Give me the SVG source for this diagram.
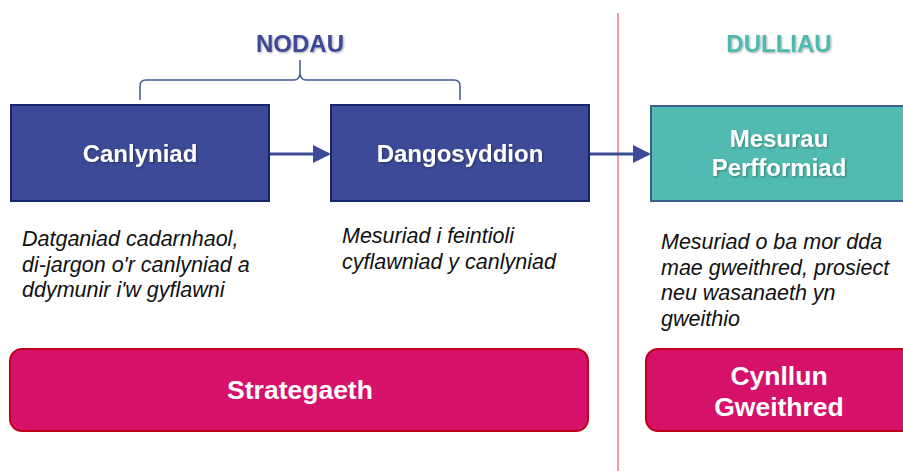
<svg xmlns="http://www.w3.org/2000/svg" width="903" height="471" viewBox="0 0 903 471">
<defs>
<style>
.blue{fill:#3D4A97;stroke:#14276A;stroke-width:2}
.teal{fill:#52BBB1;stroke:#3C5F8C;stroke-width:2}
.mag{fill:#D6116A;stroke:#C00018;stroke-width:2}
.t{font-family:"Liberation Sans",Arial,sans-serif;font-weight:bold;fill:#fff;text-anchor:middle}
.h{font-family:"Liberation Sans",Arial,sans-serif;font-weight:bold;font-size:24px;text-anchor:middle}
.d{font-family:"Liberation Sans",Arial,sans-serif;font-style:italic;font-size:21.5px;fill:#111}
.conn{stroke:#3D4A97;stroke-width:3;fill:none}
</style>
<filter id="sh" x="-10%" y="-20%" width="120%" height="140%">
<feDropShadow dx="1" dy="1" stdDeviation="0.8" flood-color="#000" flood-opacity="0.35"/>
</filter>
<marker id="ah" markerWidth="6" markerHeight="6" refX="5" refY="3" orient="auto" markerUnits="strokeWidth">
<path d="M0,0 L6,3 L0,6 z" fill="#3D4A97"/>
</marker>
</defs>
<rect width="903" height="471" fill="#fff"/>
<line x1="618" y1="13" x2="618" y2="471" stroke="#F05A5A" stroke-width="1.2"/>
<g id="nodau">
<text class="h" x="300" y="52" fill="#3D4A97" filter="url(#sh)">NODAU</text>
<path d="M140,100 L140,86 Q140,80 146,80 L294,80 Q299,80 300,74 L300,60 M300,74 Q301,80 306,80 L454,80 Q460,80 460,86 L460,100" fill="none" stroke="#3F5890" stroke-width="1.5"/>
</g>
<g id="dulliau">
<text class="h" x="779" y="52" fill="#4DBAB0" filter="url(#sh)">DULLIAU</text>
</g>
<g id="connectors">
<line class="conn" x1="270" y1="154" x2="328" y2="154" marker-end="url(#ah)"/>
<line class="conn" x1="590" y1="154" x2="648" y2="154" marker-end="url(#ah)"/>
</g>
<g id="canlyniad">
<rect class="blue" x="11" y="105" width="258" height="96"/>
<text class="t" x="140" y="162" font-size="24" filter="url(#sh)">Canlyniad</text>
</g>
<g id="dangosyddion">
<rect class="blue" x="331" y="105" width="258" height="96"/>
<text class="t" x="460" y="162" font-size="24" filter="url(#sh)">Dangosyddion</text>
</g>
<g id="mesurau">
<rect class="teal" x="651" y="106" width="262" height="95"/>
<text class="t" x="779" y="147" font-size="24" filter="url(#sh)">Mesurau</text>
<text class="t" x="779" y="176" font-size="24" filter="url(#sh)">Perfformiad</text>
</g>
<g id="desc1">
<text class="d" x="22" y="246">Datganiad cadarnhaol,</text>
<text class="d" x="22" y="271.5">di-jargon o'r canlyniad a</text>
<text class="d" x="22" y="297">ddymunir i'w gyflawni</text>
</g>
<g id="desc2">
<text class="d" x="342" y="243">Mesuriad i feintioli</text>
<text class="d" x="342" y="268.5">cyflawniad y canlyniad</text>
</g>
<g id="desc3">
<text class="d" x="661" y="249">Mesuriad o ba mor dda</text>
<text class="d" x="661" y="274.5">mae gweithred, prosiect</text>
<text class="d" x="661" y="300">neu wasanaeth yn</text>
<text class="d" x="661" y="325.5">gweithio</text>
</g>
<g id="strategaeth">
<rect class="mag" x="10" y="349" width="578" height="82" rx="12" ry="12"/>
<text class="t" x="300" y="399" font-size="26.5">Strategaeth</text>
</g>
<g id="cynllun">
<rect class="mag" x="646" y="349" width="272" height="82" rx="12" ry="12"/>
<text class="t" x="779" y="385" font-size="26.5">Cynllun</text>
<text class="t" x="779" y="416" font-size="26.5">Gweithred</text>
</g>
</svg>
